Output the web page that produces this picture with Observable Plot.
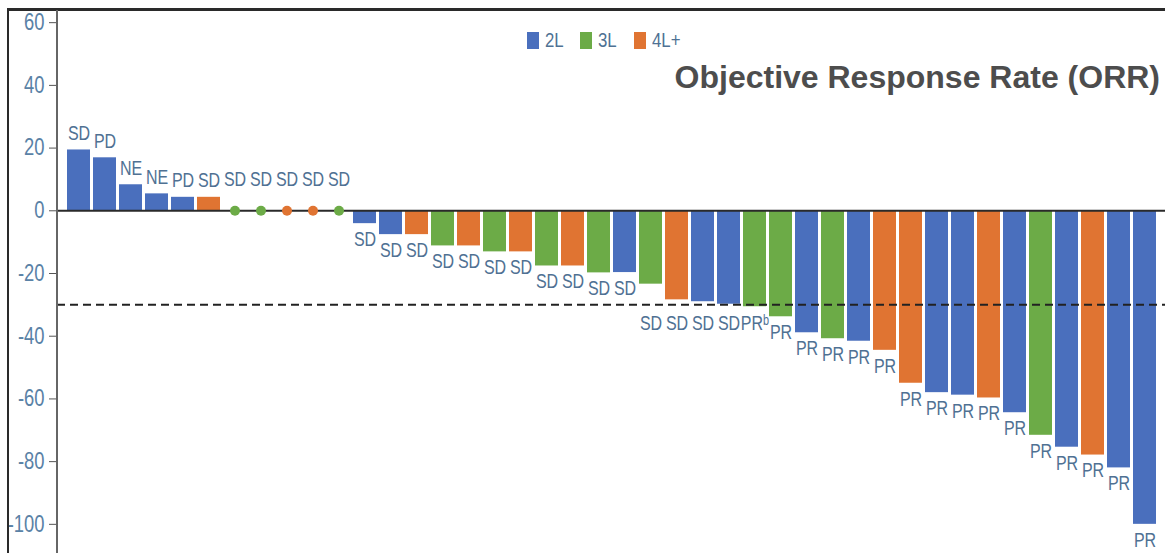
<!DOCTYPE html>
<html><head><meta charset="utf-8">
<script src="https://cdn.jsdelivr.net/npm/d3@7"></script>
<script src="https://cdn.jsdelivr.net/npm/@observablehq/plot@0.6"></script>
<style>
body{margin:0;background:#fff;}
#wrap{position:relative;width:1165px;height:553px;overflow:hidden;}
#frameTop{position:absolute;left:7px;top:8px;width:1158px;height:3px;background:#2a2a2a;}
#frameLeft{position:absolute;left:7px;top:8px;width:2px;height:545px;background:#2a2a2a;}
#axisLine{position:absolute;left:56px;top:10px;width:2px;height:543px;background:#666;}
#legend{position:absolute;left:527px;top:28px;display:flex;align-items:center;font-family:"Liberation Sans",Arial,sans-serif;font-size:21px;color:#4f7193;}
#legend .item{display:flex;align-items:center;margin-right:12px;}
#legend .sw{width:12px;height:17px;margin-right:6px;}
#legend span{display:inline-block;transform:scaleX(0.8);transform-origin:left center;}
#title{position:absolute;right:5px;top:59px;font:bold 32px "Liberation Sans",Arial,sans-serif;color:#4d4d4d;white-space:nowrap;}
svg text{font-family:"Liberation Sans",Arial,sans-serif;}
</style>
</head><body>
<div id="wrap"></div>
<script>
// Treatment line of each patient (left to right)
const lines = ["2L","2L","2L","2L","2L","4L+","3L","3L","4L+","4L+","3L","2L","2L","4L+","3L","4L+","3L","4L+","3L","4L+","3L","2L","3L","4L+","2L","2L","3L","3L","2L","3L","2L","4L+","4L+","2L","2L","4L+","2L","3L","2L","4L+","2L","2L"];
// Best % change from baseline
const values = [19.4,16.9,8.3,5.4,4.3,4.3,0,0,0,0,0,-4.1,-7.6,-7.6,-11.2,-11.2,-13.1,-13.1,-17.6,-17.6,-19.8,-19.7,-23.4,-28.4,-29,-29.8,-30.6,-33.8,-38.9,-40.8,-41.6,-44.5,-55,-58,-58.8,-59.7,-64.4,-71.6,-75.4,-77.9,-82,-100];
// Best overall response
const responses = ["SD","PD","NE","NE","PD","SD","SD","SD","SD","SD","SD","SD","SD","SD","SD","SD","SD","SD","SD","SD","SD","SD","SD","SD","SD","SD","PRᵇ","PR","PR","PR","PR","PR","PR","PR","PR","PR","PR","PR","PR","PR","PR","PR"];
const lineCategories = ["2L","3L","4L+"];
const lineColors = ["#4a6fbd","#6cab47","#e07432"];
const yTicks = [60,40,20,0,-20,-40,-60,-80,-100];
const threshold = -30;
const yDomain = [-109.3, 64.2];

const data = values.map((v,i)=>({id:String(i+1), value:v, line:lines[i], resp:responses[i]}));
const bars = data.filter(d=>d.value!==0);
const zeros = data.filter(d=>d.value===0);
const pos = data.filter(d=>d.value>0);
// labels of bars ending just above the threshold line are pushed below it
const nearLine = d => d.value<0 && d.value> threshold-1 && d.value < -21;
const neg = data.filter(d=>d.value<0 && !nearLine(d));
const negNear = data.filter(nearLine);

const labelColor = "#4f7193";
const chart = Plot.plot({
  width:1165, height:553,
  marginLeft:57, marginRight:0, marginTop:9, marginBottom:0,
  style:{background:"transparent", overflow:"visible"},
  x:{domain:data.map(d=>d.id), paddingInner:0.12, paddingOuter:0.25, axis:null},
  y:{domain:yDomain, axis:null},
  color:{domain:lineCategories, range:lineColors},
  marks:[
    Plot.axisY({ticks:yTicks, tickSize:8, tickPadding:5, fontSize:23, fill:"#5a82a6", stroke:"#555", label:null, tickFormat:d=>String(d)}),
    Plot.barY(bars, {x:"id", y:"value", fill:"line"}),
    Plot.ruleY([0], {stroke:"#2a2a2a", strokeWidth:2}),
    Plot.ruleY([threshold], {stroke:"#222", strokeWidth:2, strokeDasharray:"8,5"}),
    Plot.dot(zeros, {x:"id", y:"value", fill:"line", r:5}),
    Plot.text(pos, {x:"id", y:"value", text:"resp", dy:-16.5, fontSize:20, fill:labelColor}),
    Plot.text(zeros, {x:"id", y:"value", text:"resp", dy:-31, fontSize:20, fill:labelColor}),
    Plot.text(neg, {x:"id", y:"value", text:"resp", dy:16, fontSize:20, fill:labelColor}),
    Plot.text(negNear, {x:"id", y:()=>threshold, text:"resp", dy:19, fontSize:20, fill:labelColor})
  ]
});
// condense all chart text horizontally (narrow typeface look)
chart.querySelectorAll("text").forEach(t=>{
  const tr = t.getAttribute("transform") || "";
  const x = t.getAttribute("x");
  let extra = "";
  if (x !== null && isFinite(+x) && +x !== 0) { extra = ` translate(${+x},0)`; t.removeAttribute("x"); }
  t.setAttribute("transform", `${tr}${extra} scale(0.8,1)`);
});
const wrap = document.getElementById("wrap");
wrap.appendChild(chart);
chart.style.position="absolute"; chart.style.left="0"; chart.style.top="0";
["frameTop","frameLeft","axisLine"].forEach(id=>{const d=document.createElement("div"); d.id=id; wrap.appendChild(d);});
const legend = document.createElement("div"); legend.id="legend";
lineCategories.forEach((c,i)=>{
  const it=document.createElement("div"); it.className="item";
  const sw=document.createElement("div"); sw.className="sw"; sw.style.background=lineColors[i];
  const t=document.createElement("span"); t.textContent=c;
  it.appendChild(sw); it.appendChild(t); legend.appendChild(it);
});
wrap.appendChild(legend);
const title=document.createElement("div"); title.id="title"; title.textContent="Objective Response Rate (ORR)";
wrap.appendChild(title);
</script>
</body></html>
